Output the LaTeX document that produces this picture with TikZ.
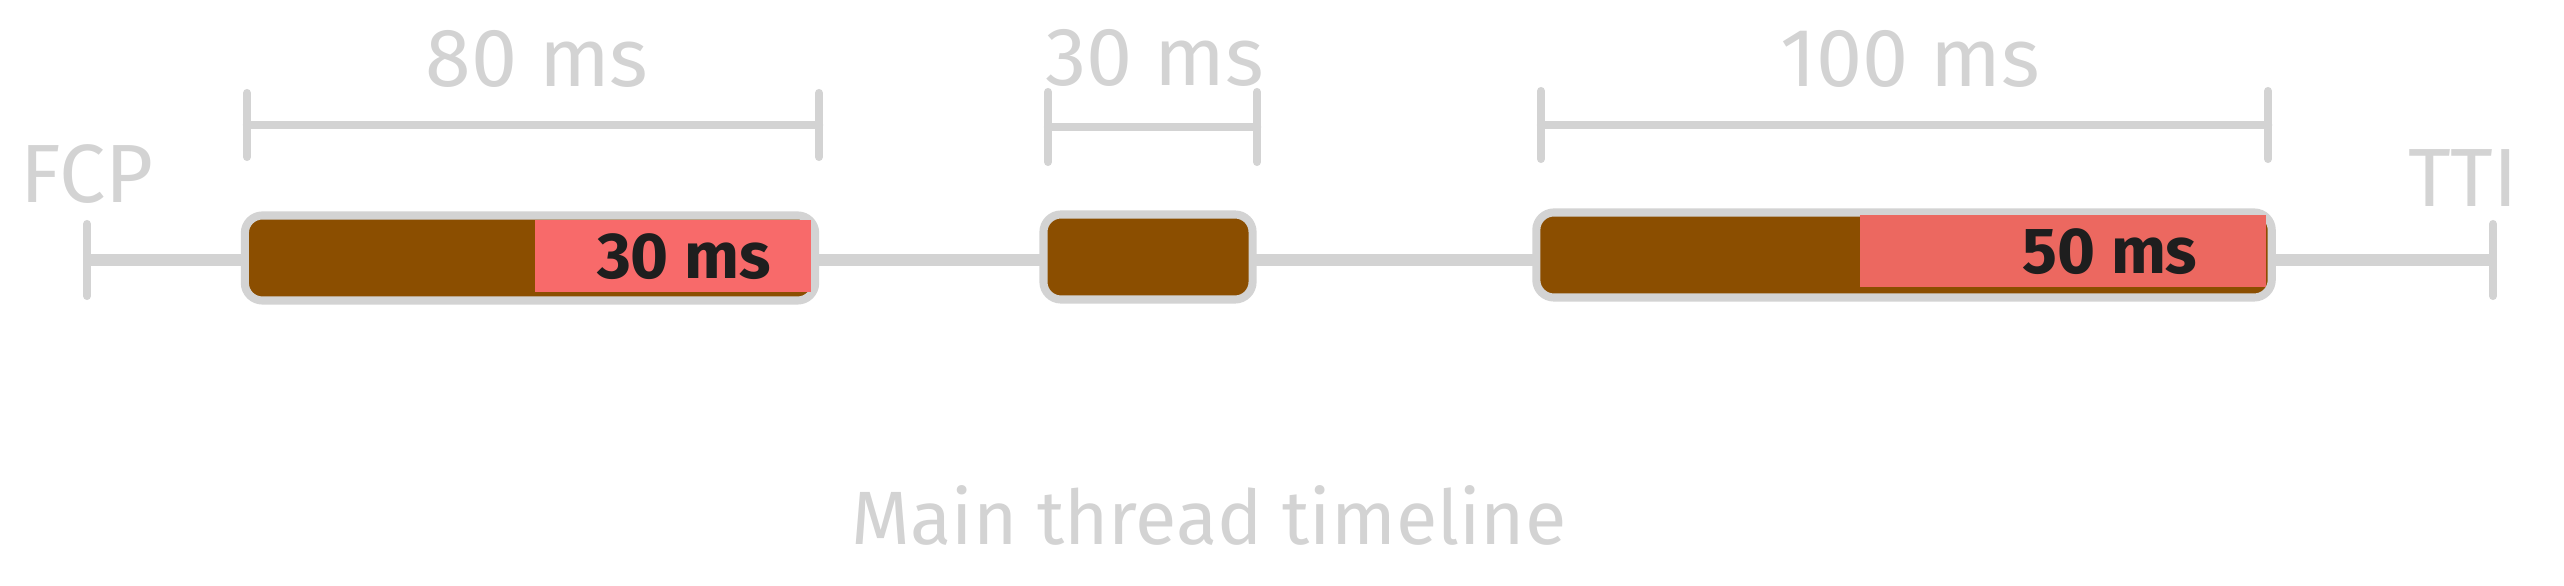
\documentclass[tikz,border=0pt]{standalone}
\usepackage{fontspec}
\setmainfont{Fira Sans}
\definecolor{sketchgray}{RGB}{211,211,211}
\definecolor{taskbrown}{RGB}{139,78,0}
\definecolor{longred}{RGB}{248,106,106}
\definecolor{longredb}{RGB}{236,104,96}
\definecolor{inkblack}{RGB}{30,30,30}
\tikzset{
  task/.style={draw=sketchgray,line width=2.3pt,fill=taskbrown,rounded corners=5pt,inner sep=0pt,minimum height=0.85cm},
  blocking/.style={fill=#1,inner sep=0pt,minimum height=0.72cm},
  span/.style={draw=sketchgray,line width=2.4pt,line cap=round},
  tick/.style={draw=sketchgray,line width=2.3pt,line cap=round},
  timeline/.style={draw=sketchgray,line width=3.6pt},
  graytext/.style={text=sketchgray,inner sep=0pt,font=\fontsize{23.5}{26}\selectfont},
  inktext/.style={text=inkblack,inner sep=0pt,font=\fontsize{18.5}{21}\selectfont\bfseries},
}
\begin{document}
\begin{tikzpicture}[x=0.01cm,y=-0.01cm]
  \useasboundingbox (0,0) rectangle (2564,586);
  % main thread
  \coordinate (fcp) at (87,260);
  \coordinate (tti) at (2493,260);
  \draw [timeline] (fcp) -- (tti);
  \draw [tick] (fcp) ++(0,-36) -- ++(0,72);
  \draw [tick] (tti) ++(0,-36) -- ++(0,72);
  \node [graytext] (fcplbl) at (87,174) {FCP};
  \node [graytext] (ttilbl) at (2463,178) {TTI};
  % tasks
  \node [task,minimum width=5.70cm] (task1) at (530,258) {};
  \node [blocking=longred,minimum width=2.76cm] (busy1) at (673,256) {};
  \node [inktext] (busy1lbl) at (684,257) {30 ms};
  \node [task,minimum width=2.09cm] (task2) at (1148,257) {};
  \node [task,minimum width=7.35cm] (task3) at (1904,255) {};
  \node [blocking=longredb,minimum width=4.06cm] (busy3) at (2063,251) {};
  \node [inktext] (busy3lbl) at (2110,252) {50 ms};
  % spans
  \coordinate (s1a) at (247,125);
  \coordinate (s1b) at (819,125);
  \draw [span] (s1a) -- (s1b);
  \draw [tick] (s1a) ++(0,-32) -- ++(0,64);
  \draw [tick] (s1b) ++(0,-32) -- ++(0,64);
  \node [graytext] (s1lbl) at (537,59) {80 ms};
  \coordinate (s2a) at (1048,127);
  \coordinate (s2b) at (1257,127);
  \draw [span] (s2a) -- (s2b);
  \draw [tick] (s2a) ++(0,-35) -- ++(0,70);
  \draw [tick] (s2b) ++(0,-35) -- ++(0,70);
  \node [graytext] (s2lbl) at (1155,58) {30 ms};
  \coordinate (s3a) at (1541,125);
  \coordinate (s3b) at (2268,125);
  \draw [span] (s3a) -- (s3b);
  \draw [tick] (s3a) ++(0,-34) -- ++(0,68);
  \draw [tick] (s3b) ++(0,-34) -- ++(0,68);
  \node [graytext] (s3lbl) at (1910,59) {100 ms};
  % caption
  \node [graytext,font=\fontsize{21.5}{25}\selectfont] (caption) at (1209,515) {Main thread timeline};
\end{tikzpicture}
\end{document}
